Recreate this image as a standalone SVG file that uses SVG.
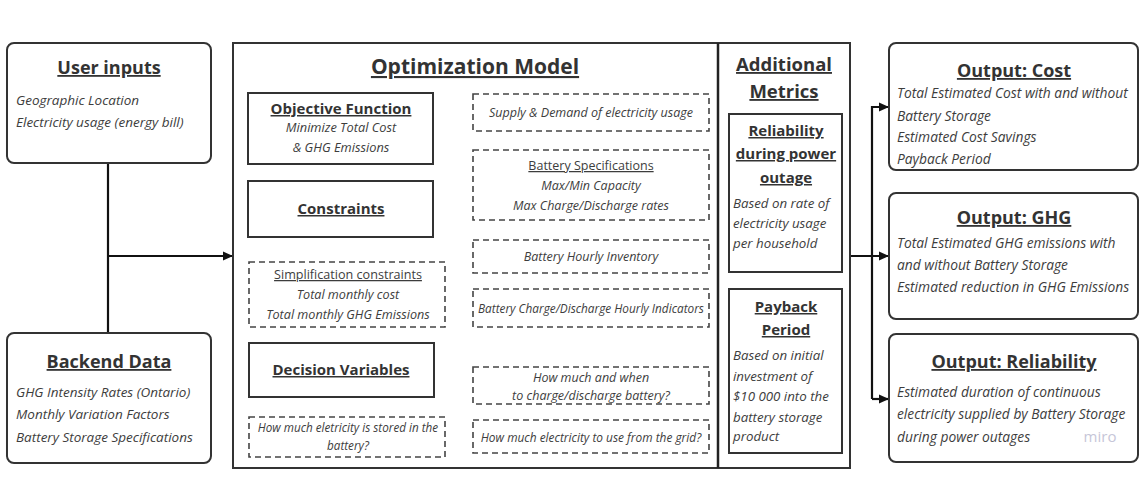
<svg xmlns="http://www.w3.org/2000/svg" width="1146" height="504" viewBox="0 0 1146 504">
<defs>
<marker id="arr" markerWidth="10" markerHeight="10" refX="9" refY="5" orient="auto" markerUnits="userSpaceOnUse">
<path d="M0,0.5 L10,5 L0,9.5 Z" fill="#111"/>
</marker>
<style>
.rbox{fill:#fff;stroke:#333;stroke-width:2}
.box{fill:#fff;stroke:#333;stroke-width:2}
.dbox{fill:#fff;stroke:#444;stroke-width:1.6;stroke-dasharray:6 4}
.t{font-family:"Open Sans","Liberation Sans",sans-serif;fill:#333;font-weight:bold;text-decoration:underline;text-anchor:middle}
.b{font-family:"Open Sans","Liberation Sans",sans-serif;fill:#3d3d3d;font-style:italic}
.c{text-anchor:middle}
.u{font-family:"Open Sans","Liberation Sans",sans-serif;fill:#3d3d3d;text-decoration:underline;text-anchor:middle}
.conn{stroke:#555;stroke-width:1;fill:none}
.flow{stroke:#111;stroke-width:2.2;fill:none}
</style>
</defs>
<rect width="1146" height="504" fill="#fff"/>

<g id="connectors">
<path class="flow" d="M108,163 V333"/>
<path class="flow" d="M108,256 H232" marker-end="url(#arr)"/>
<path class="flow" d="M850,256 H888" marker-end="url(#arr)"/>
<path class="flow" d="M872,399 V107 H888" marker-end="url(#arr)"/>
<path class="flow" d="M872,399 H888" marker-end="url(#arr)"/>
<path class="conn" d="M433,209 L473,112 M433,209 L473,185 M433,209 L473,255 M433,209 L473,290 M433,209 L445,262"/>
<path class="conn" d="M434,370 L473,385 M434,370 L473,433"/>
</g>

<g id="user-inputs">
<rect class="rbox" x="7" y="43" width="204" height="120" rx="7"/>
<text class="t" x="109" y="74" font-size="18">User inputs</text>
<text class="b" x="16" y="105" font-size="13.5">Geographic Location</text>
<text class="b" x="16" y="127" font-size="13.5">Electricity usage (energy bill)</text>
</g>

<g id="backend-data">
<rect class="rbox" x="7" y="333" width="204" height="130" rx="7"/>
<text class="t" x="109" y="368" font-size="18">Backend Data</text>
<text class="b" x="16" y="397" font-size="13.5">GHG Intensity Rates (Ontario)</text>
<text class="b" x="16" y="419" font-size="13.5">Monthly Variation Factors</text>
<text class="b" x="16" y="442" font-size="13.5">Battery Storage Specifications</text>
</g>

<g id="optimization-model">
<rect class="box" x="233" y="43" width="617" height="425"/>
<line x1="718" y1="43" x2="718" y2="468" stroke="#222" stroke-width="2.5"/>
<text class="t" x="475" y="74" font-size="21">Optimization Model</text>
</g>

<g id="objective-function">
<rect class="box" x="248" y="93" width="185" height="71"/>
<text class="t" x="341" y="114" font-size="15">Objective Function</text>
<text class="b c" x="341" y="132" font-size="12.8">Minimize Total Cost</text>
<text class="b c" x="341" y="152" font-size="12.8">&amp; GHG Emissions</text>
</g>

<g id="constraints">
<rect class="box" x="248" y="181" width="185" height="56"/>
<text class="t" x="341" y="214" font-size="15">Constraints</text>
</g>

<g id="simplification">
<rect class="dbox" x="249" y="262" width="196" height="65"/>
<text class="u" x="348" y="279" font-size="12.6">Simplification constraints</text>
<text class="b c" x="348" y="299" font-size="12.6">Total monthly cost</text>
<text class="b c" x="348" y="319" font-size="12.6">Total monthly GHG Emissions</text>
</g>

<g id="decision-variables">
<rect class="box" x="249" y="343" width="185" height="54"/>
<text class="t" x="341" y="375" font-size="15">Decision Variables</text>
</g>

<g id="stored">
<rect class="dbox" x="249" y="417" width="196" height="40"/>
<text class="b c" x="348" y="432" font-size="11.7">How much eletricity is stored in the</text>
<text class="b c" x="348" y="450" font-size="11.7">battery?</text>
</g>

<g id="supply-demand">
<rect class="dbox" x="473" y="94" width="236" height="37"/>
<text class="b c" x="591" y="117" font-size="12.5">Supply &amp; Demand of electricity usage</text>
</g>

<g id="battery-specs">
<rect class="dbox" x="473" y="150" width="236" height="70"/>
<text class="u" x="591" y="170" font-size="12.5">Battery Specifications</text>
<text class="b c" x="591" y="190" font-size="12.5">Max/Min Capacity</text>
<text class="b c" x="591" y="210" font-size="12.5">Max Charge/Discharge rates</text>
</g>

<g id="hourly-inventory">
<rect class="dbox" x="473" y="240" width="236" height="33"/>
<text class="b c" x="591" y="261" font-size="12.5">Battery Hourly Inventory</text>
</g>

<g id="hourly-indicators">
<rect class="dbox" x="473" y="289" width="236" height="38"/>
<text class="b c" x="591" y="313" font-size="11.8">Battery Charge/Discharge Hourly Indicators</text>
</g>

<g id="when-charge">
<rect class="dbox" x="473" y="367" width="236" height="37"/>
<text class="b c" x="591" y="382" font-size="12.5">How much and when</text>
<text class="b c" x="591" y="400" font-size="12.5">to charge/discharge battery?</text>
</g>

<g id="grid">
<rect class="dbox" x="473" y="420" width="236" height="33"/>
<text class="b c" x="591" y="442" font-size="11.9">How much electricity to use from the grid?</text>
</g>

<g id="additional-metrics">
<text class="t" x="784" y="71" font-size="18.5">Additional</text>
<text class="t" x="784" y="98" font-size="18.5">Metrics</text>
</g>

<g id="reliability-metric">
<rect class="box" x="729" y="114" width="113" height="158"/>
<text class="t" x="786" y="136" font-size="15">Reliability</text>
<text class="t" x="786" y="159" font-size="15">during power</text>
<text class="t" x="786" y="183" font-size="15">outage</text>
<text class="b" x="733" y="208" font-size="13.3">Based on rate of</text>
<text class="b" x="733" y="228" font-size="13.3">electricity usage</text>
<text class="b" x="733" y="248" font-size="13.3">per household</text>
</g>

<g id="payback-metric">
<rect class="box" x="729" y="289" width="113" height="164"/>
<text class="t" x="786" y="312" font-size="15">Payback</text>
<text class="t" x="786" y="335" font-size="15">Period</text>
<text class="b" x="733" y="360" font-size="13.3">Based on initial</text>
<text class="b" x="733" y="381" font-size="13.3">investment of</text>
<text class="b" x="733" y="401" font-size="13.3">$10 000 into the</text>
<text class="b" x="733" y="422" font-size="13.3">battery storage</text>
<text class="b" x="733" y="441" font-size="13.3">product</text>
</g>

<g id="output-cost">
<rect class="rbox" x="889" y="43" width="249" height="127" rx="7"/>
<text class="t" x="1014" y="77" font-size="18">Output: Cost</text>
<text class="b" x="897" y="98" font-size="13.8">Total Estimated Cost with and without</text>
<text class="b" x="897" y="121" font-size="13.8">Battery Storage</text>
<text class="b" x="897" y="142" font-size="13.8">Estimated Cost Savings</text>
<text class="b" x="897" y="164" font-size="13.8">Payback Period</text>
</g>

<g id="output-ghg">
<rect class="rbox" x="889" y="193" width="249" height="126" rx="7"/>
<text class="t" x="1014" y="224" font-size="18">Output: GHG</text>
<text class="b" x="897" y="248" font-size="13.8">Total Estimated GHG emissions with</text>
<text class="b" x="897" y="270" font-size="13.8">and without Battery Storage</text>
<text class="b" x="897" y="292" font-size="13.8">Estimated reduction in GHG Emissions</text>
</g>

<g id="output-reliability">
<rect class="rbox" x="889" y="334" width="249" height="128" rx="7"/>
<text class="t" x="1014" y="368" font-size="18">Output: Reliability</text>
<text class="b" x="897" y="397" font-size="13.8">Estimated duration of continuous</text>
<text class="b" x="897" y="419" font-size="13.8">electricity supplied by Battery Storage</text>
<text class="b" x="897" y="442" font-size="13.8">during power outages</text>
<text x="1100" y="442" font-size="15" fill="#c6c6d8" font-family="'Open Sans','Liberation Sans',sans-serif" text-anchor="middle">miro</text>
</g>
</svg>
